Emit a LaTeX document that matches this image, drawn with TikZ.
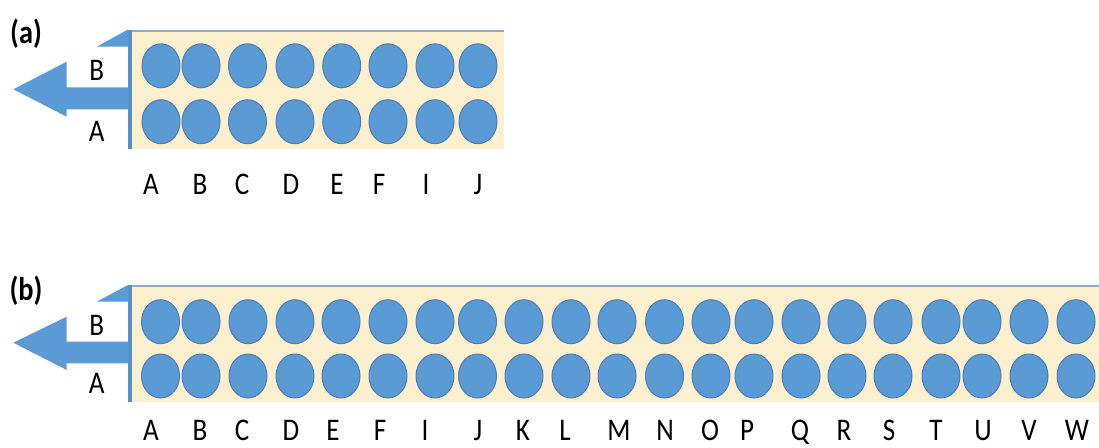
\documentclass[tikz,border=0pt]{standalone}
\usepackage{fontspec}
\setmainfont{Carlito}
\usetikzlibrary{shapes.geometric}
\definecolor{wellblue}{HTML}{5B9BD5}
\definecolor{welledge}{HTML}{4A7EB5}
\definecolor{beige}{HTML}{FDF0CF}
\definecolor{topline}{HTML}{8FAACB}
\definecolor{barblue}{HTML}{5690CC}
\newcommand{\sqzlbl}[1]{\scalebox{0.86}[1]{#1}}
\tikzset{
  well/.style={ellipse, minimum width=38pt, minimum height=44pt, inner sep=0pt, fill=wellblue, draw=welledge, line width=1pt},
  collabel/.style={inner sep=0pt, font=\fontsize{31.5}{36}\selectfont},
  rowlabel/.style={inner sep=0pt, font=\fontsize{31.5}{36}\selectfont},
  panellabel/.style={inner sep=0pt, font=\bfseries\fontsize{33}{38}\selectfont},
  plate/.style={fill=beige},
  platetop/.style={draw=topline, line width=1.2pt},
  bar/.style={draw=barblue, line width=4pt},
  arrowshape/.style={fill=wellblue}
}
\begin{document}
\begin{tikzpicture}[x=1pt,y=-1pt]
\useasboundingbox[fill=white] (0,0) rectangle (1099,447);
% ---------- panel (a) ----------
\node[panellabel] (pa) at (26,34) {\sqzlbl{(a)}};
\fill[plate] (130,31) rectangle (504,149);
\draw[platetop] (130,31) -- (504,31);
\fill[arrowshape] (96.7,46.7) -- (128,29.5) -- (128,46.7) -- cycle;
\fill[arrowshape] (128,87.3) -- (66.7,87.3) -- (66.7,61.7) -- (13.3,89.3) -- (66.7,116.7) -- (66.7,109.3) -- (128,109.3) -- cycle;
\draw[bar] (130,29.5) -- (130,149);
\node[rowlabel] (aBl) at (96.7,70) {\sqzlbl{B}};
\node[rowlabel] (aAl) at (96.7,131) {\sqzlbl{A}};
\foreach \cx/\lx/\t [count=\i] in {161/151/A,201/200/B,247.5/242/C,295/291/D,341.7/337/E,388/379/F,435/426/I,478/478/J}{
  \node[well] (aB\i) at (\cx,65.8) {};
  \node[well] (aA\i) at (\cx,121.7) {};
  \node[collabel] (aL\i) at (\lx,184) {\sqzlbl{\t}};
}
% ---------- panel (b) ----------
\node[panellabel] (pb) at (26,291) {\sqzlbl{(b)}};
\fill[plate] (130,287) rectangle (1099,401.5);
\draw[platetop] (130,286) -- (1099,286);
\fill[arrowshape] (96.7,301.7) -- (128,285) -- (128,301.7) -- cycle;
\fill[arrowshape] (128,341.7) -- (66.7,341.7) -- (66.7,316.7) -- (13.3,342.7) -- (66.7,370) -- (66.7,363.3) -- (128,363.3) -- cycle;
\draw[bar] (130,285) -- (130,401.5);
\node[rowlabel] (bBl) at (96.7,325) {\sqzlbl{B}};
\node[rowlabel] (bAl) at (96.7,383) {\sqzlbl{A}};
\foreach \cx/\lx/\t [count=\i] in {160.5/151/A,201/200/B,248/242/C,295/291/D,341/333/E,388/380/F,435/425/I,477.5/478/J,524/523/K,571/565/L,617/619/M,664.5/665/N,711/710/O,754/747/P,801/800/Q,847/844/R,893/889/S,941/936/T,982/983/U,1029/1029/V,1076/1077/W}{
  \node[well] (bB\i) at (\cx,321.7) {};
  \node[well] (bA\i) at (\cx,376) {};
  \node[collabel, anchor=base] (bL\i) at (\lx,440.5) {\sqzlbl{\t}};
}
\end{tikzpicture}
\end{document}
